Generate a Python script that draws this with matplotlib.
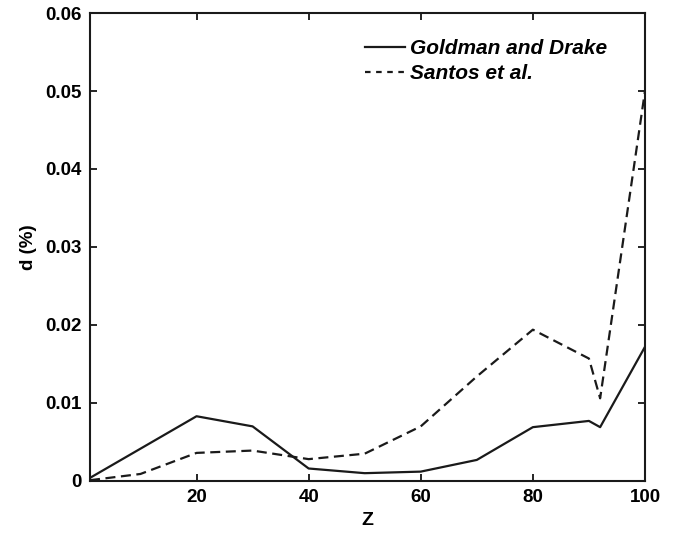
import matplotlib
matplotlib.use("Agg")
import matplotlib.pyplot as plt

plt.rcParams['font.family'] = ['Liberation Sans', 'DejaVu Sans']
plt.rcParams['font.weight'] = 'bold'

# data
z_gd = [1, 20, 30, 40, 50, 60, 70, 80, 90, 92, 100]
d_gd = [0.0004, 0.0083, 0.0070, 0.0016, 0.0010, 0.0012, 0.0027, 0.0069, 0.0077, 0.0069, 0.0172]

z_santos = [1, 10, 20, 30, 40, 50, 60, 70, 80, 90, 92, 100]
d_santos = [0.0001, 0.0009, 0.0036, 0.0039, 0.0028, 0.0035, 0.0070, 0.0134, 0.0194, 0.0157, 0.0106, 0.0500]

xticks = [20, 40, 60, 80, 100]
yticks = [0, 0.01, 0.02, 0.03, 0.04, 0.05, 0.06]
ytick_labels = ['0', '0.01', '0.02', '0.03', '0.04', '0.05', '0.06']

fig = plt.figure(figsize=(6.8, 5.33), dpi=100)
ax = fig.add_axes([0.1324, 0.0976, 0.8161, 0.878])

ax.plot(z_gd, d_gd, color='#1a1a1a', lw=1.6, label='Goldman and Drake')
ax.plot(z_santos, d_santos, color='#1a1a1a', lw=1.6, dashes=(4.5, 2.5), label='Santos et al.')

ax.set_xlim(1, 100)
ax.set_ylim(0, 0.06)
ax.set_xticks(xticks)
ax.set_yticks(yticks)
ax.set_yticklabels(ytick_labels)
ax.tick_params(direction='in', top=True, right=True, length=5, width=1.2, labelsize=13.5, pad=6)
for s in ax.spines.values():
    s.set_linewidth(1.5)
    s.set_color('#1a1a1a')

ax.set_xlabel('Z', fontsize=14, fontweight='bold', labelpad=4)
ax.set_ylabel('d (%)', fontsize=13.5, fontweight='bold', labelpad=6)

leg = ax.legend(loc='upper right', bbox_to_anchor=(0.996, 1.02), frameon=False, fontsize=15,
                handlelength=1.92, handletextpad=0.25, labelspacing=0.3, borderaxespad=1.3)
for t in leg.get_texts():
    t.set_fontstyle('italic')
    t.set_fontweight('bold')
for h in leg.get_lines():
    h.set_linewidth(1.6)
leg.get_lines()[1].set_dashes((2.5, 2.5))

fig.savefig('out.png', dpi=100)
